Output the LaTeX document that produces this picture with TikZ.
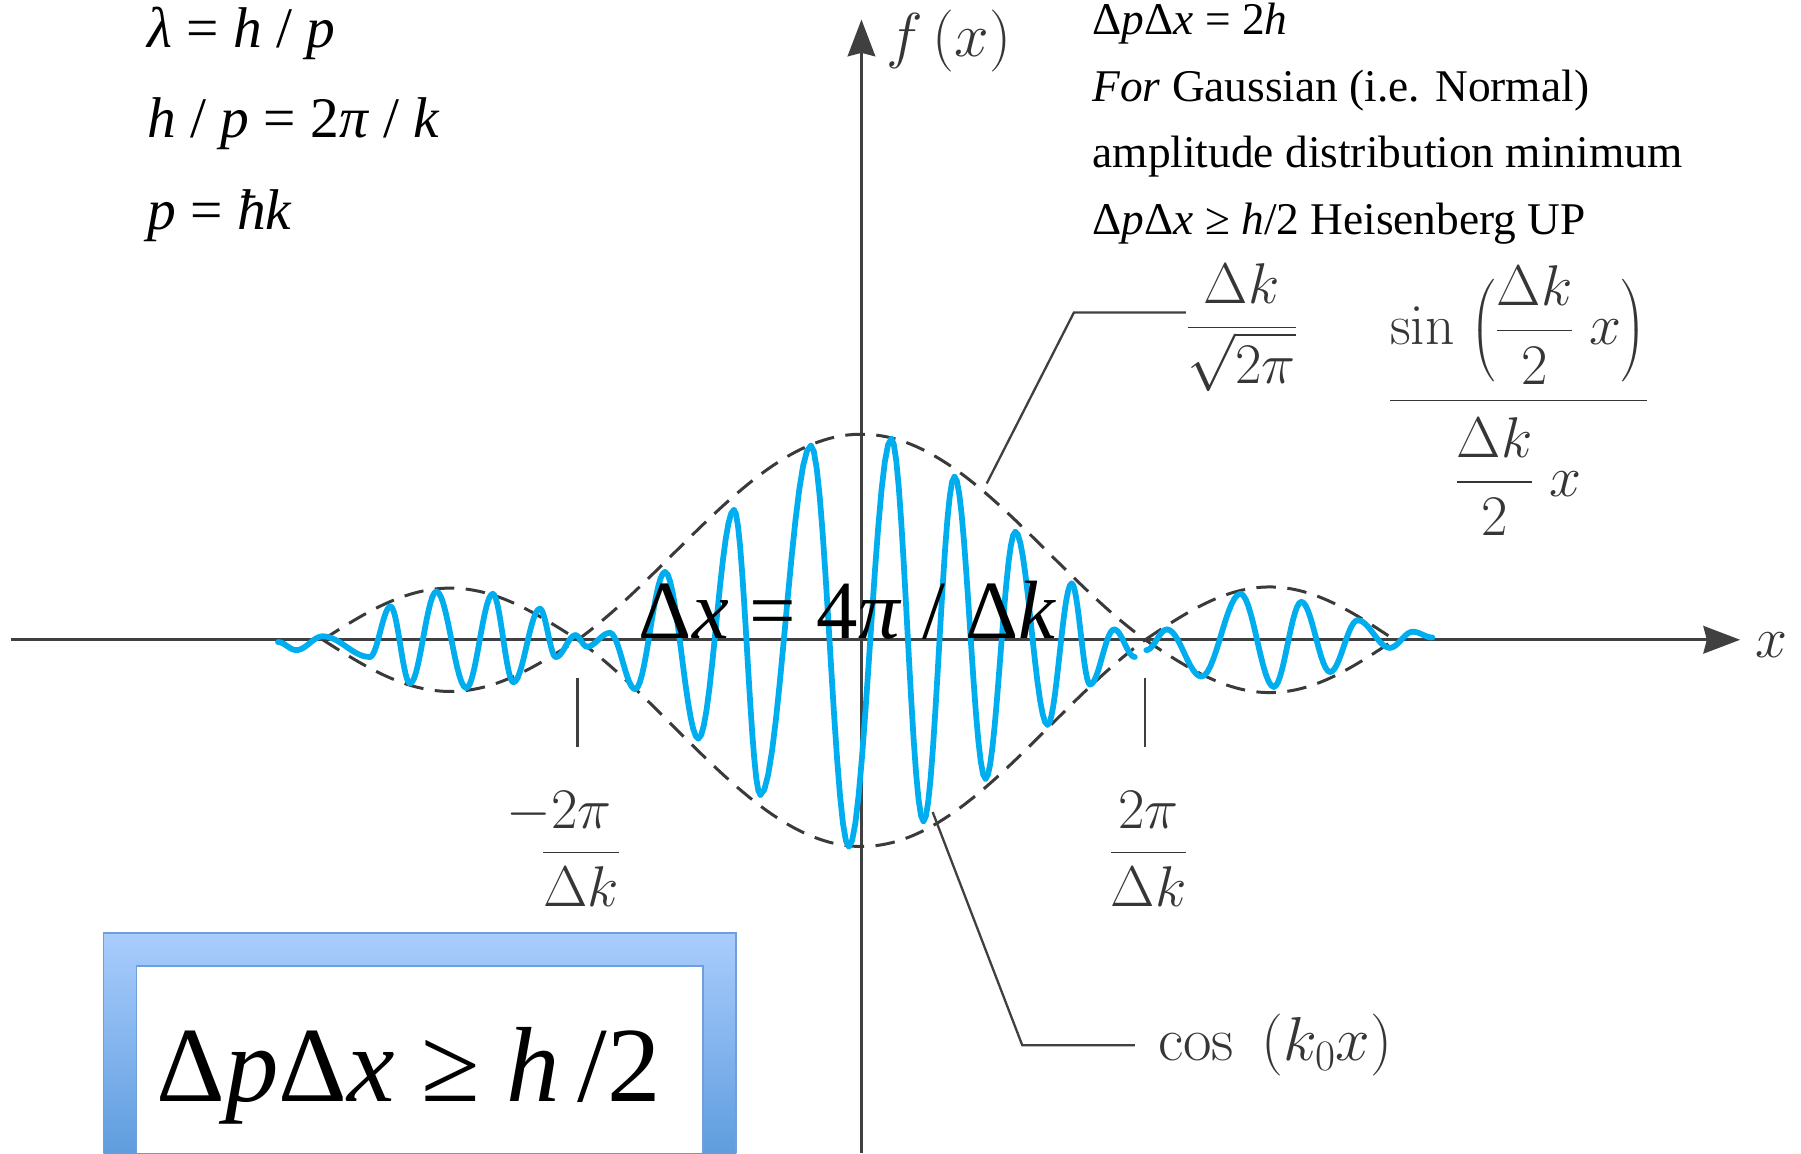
\RequirePackage{fix-cm}
\documentclass[tikz,border=0pt]{standalone}
\usepackage{amsmath}
\usepackage[no-math]{fontspec}
\newfontfamily\tnr{Liberation Serif}
\usetikzlibrary{arrows.meta}
\definecolor{wblue}{HTML}{00AEEF}
\definecolor{axgray}{HTML}{404040}
\definecolor{lblgray}{HTML}{363636}
\definecolor{envgray}{HTML}{3A3A3A}
\definecolor{boxtop}{HTML}{A9CDFD}
\definecolor{boxbot}{HTML}{5F9DDE}
\definecolor{boxedge}{HTML}{6E9FD9}
\begin{document}
\begin{tikzpicture}[x=1pt,y=-1pt,inner sep=0pt,
  wave/.style={wblue,line width=5pt,line cap=round,line join=round},
  env/.style={envgray,line width=2.6pt,dash pattern=on 17pt off 10pt},
  axisline/.style={axgray,line width=2.6pt},
  pointer/.style={axgray,line width=2pt},
  lbl/.style={text=lblgray,font=\fontsize{50}{60}\selectfont},
  lblbig/.style={text=lblgray,font=\fontsize{54}{64}\selectfont},
  tleft/.style={text=black,anchor=base west,font=\tnr\fontsize{50}{58}\selectfont},
  tright/.style={text=black,anchor=base west,font=\tnr\fontsize{39.5}{48}\selectfont}]
\fill[white] (0,0) rectangle (1568,1004);
\useasboundingbox (0,0) rectangle (1568,1004);
% highlighted box
\shade[top color=boxtop,bottom color=boxbot] (90,812) rectangle (641,1004);
\draw[boxedge,line width=1.5pt] (90,1004) -- (90,812) -- (641,812) -- (641,1004);
\fill[white] (119,841) rectangle (612,1004);
\draw[boxedge,line width=1.2pt] (119,1004) -- (119,841) -- (612,841) -- (612,1004);
% axes
\coordinate (xL) at (10,557);
\coordinate (xR) at (1515,557);
\coordinate (yB) at (750,1004);
\coordinate (yT) at (750,17);
\draw[axisline,-{Stealth[length=32pt,width=24pt,inset=3pt]}] (xL) -- (xR);
\draw[axisline,-{Stealth[length=32pt,width=24pt,inset=3pt]}] (yB) -- (yT);
% ticks
\coordinate (tL1) at (503,590); \coordinate (tL2) at (503,650);
\coordinate (tR1) at (997,590); \coordinate (tR2) at (997,650);
\draw[axisline,line width=2.2pt] (tL1) -- (tL2);
\draw[axisline,line width=2.2pt] (tR1) -- (tR2);
% envelopes
\draw[env] plot[domain=-180:180,samples=100,variable=\t] ({750+\t/180*247},{557-sin(\t)/(\t*pi/180)*179});
\draw[env] plot[domain=-180:180,samples=100,variable=\t] ({750+\t/180*247},{557+sin(\t)/(\t*pi/180)*180});
\draw[env] plot[domain=281:503,samples=50,variable=\t] (\t,{557-45*sin((\t-281)/222*180)});
\draw[env] plot[domain=281:503,samples=50,variable=\t] (\t,{557+45*sin((\t-281)/222*180)});
\draw[env] plot[domain=997:1214,samples=50,variable=\t] (\t,{557-46*sin((\t-997)/217*180)});
\draw[env] plot[domain=997:1214,samples=50,variable=\t] (\t,{557+46*sin((\t-997)/217*180)});
% wave
\foreach \xa/\ya/\xb/\yb in {242/559/258/566, 258/566/281/554, 281/554/322/572, 322/572/340/528, 340/528/357/595, 357/595/380/515, 380/515/406/599, 406/599/429/517, 429/517/447/594, 447/594/470/530, 470/530/484/572, 484/572/501/553, 501/553/511/563, 511/563/531/551, 531/551/553/600, 553/600/579/498, 579/498/608/643, 608/643/639/444, 639/444/662/692, 662/692/706/388, 706/388/739/737, 739/737/776/382, 776/382/804/715, 804/715/831/415, 831/415/858/678, 858/678/884/463, 884/463/912/631, 912/631/933/508, 933/508/949/596, 949/596/970/548, 970/548/988/572, 998/566/1016/548, 1016/548/1046/589, 1046/589/1080/517, 1080/517/1109/598, 1109/598/1133/524, 1133/524/1158/585, 1158/585/1182/540, 1182/540/1210/564, 1210/564/1230/550, 1230/550/1247/555}
  \draw[wave] plot[domain=\xa:\xb,samples=14,variable=\t] (\t,{(\ya+\yb)/2+(\ya-\yb)/2*cos((\t-\xa)/(\xb-\xa)*180)});
% graph labels
\node[lblbig] (fx) at (826,36) {$f\,(x)$};
\node[lbl] (xl) at (1542,562) {$x$};
\node[lbl] (mL) at (506,739) {$\dfrac{\makebox[0pt][r]{$-$}2\pi}{\Delta k}$};
\node[lbl] (mR) at (1000,739) {$\dfrac{2\pi}{\Delta k}$};
\node[lbl] (sincpre) at (1081,285) {$\dfrac{\Delta k}{\sqrt{2\pi}}$};
\node[lbl] (sincfr) at (1322,349) {$\dfrac{\sin\;\Bigl(\dfrac{\Delta k}{2}\;x\Bigr)\rule[-45pt]{0pt}{45pt}}{\rule{0pt}{80pt}\dfrac{\Delta k}{2}\;x}$};
\node[lblbig,anchor=west] (cosl) at (1008,910) {$\cos\;\,(k_0 x)$};
% pointers
\coordinate (envA) at (859,421);
\coordinate (kneeA) at (935,272);
\coordinate (envB) at (812,707);
\coordinate (kneeB) at (890,910);
\draw[pointer] (envA) -- (kneeA) -- (sincpre.west |- kneeA);
\draw[pointer] (envB) -- (kneeB) -- ([xshift=-20pt]cosl.west);
% overlay texts
\node[tleft] (eq1) at (128,41) {\textit{λ} = \textit{h} / \textit{p}};
\node[tleft] (eq2) at (128,120) {\textit{h} / \textit{p} = 2\textit{π} / \textit{k}};
\node[tleft] (eq3) at (128,200) {\textit{p} = \textit{ħk}};
\node[tright] (r1) at (951,30) {Δ\textit{p}Δ\textit{x} = 2\textit{h}};
\node[tright] (r2) at (951,88) {\textit{For} Gaussian (i.e. Normal)};
\node[tright] (r3) at (951,146) {amplitude distribution minimum};
\node[tright] (r4) at (951,204) {Δ\textit{p}Δ\textit{x} ≥ \textit{h}/2 Heisenberg UP};
\node[text=black,anchor=base west,font=\tnr\fontsize{72}{80}\selectfont] (dx) at (556,556) {Δ\textit{x} = 4\textit{π} / Δ\textit{k}};
\node[text=black,anchor=base west,font=\tnr\fontsize{93}{108}\selectfont] (hup) at (136,959) {Δ\textit{p}Δ\textit{x} ≥ \textit{h}\,/2};
\end{tikzpicture}
\end{document}
